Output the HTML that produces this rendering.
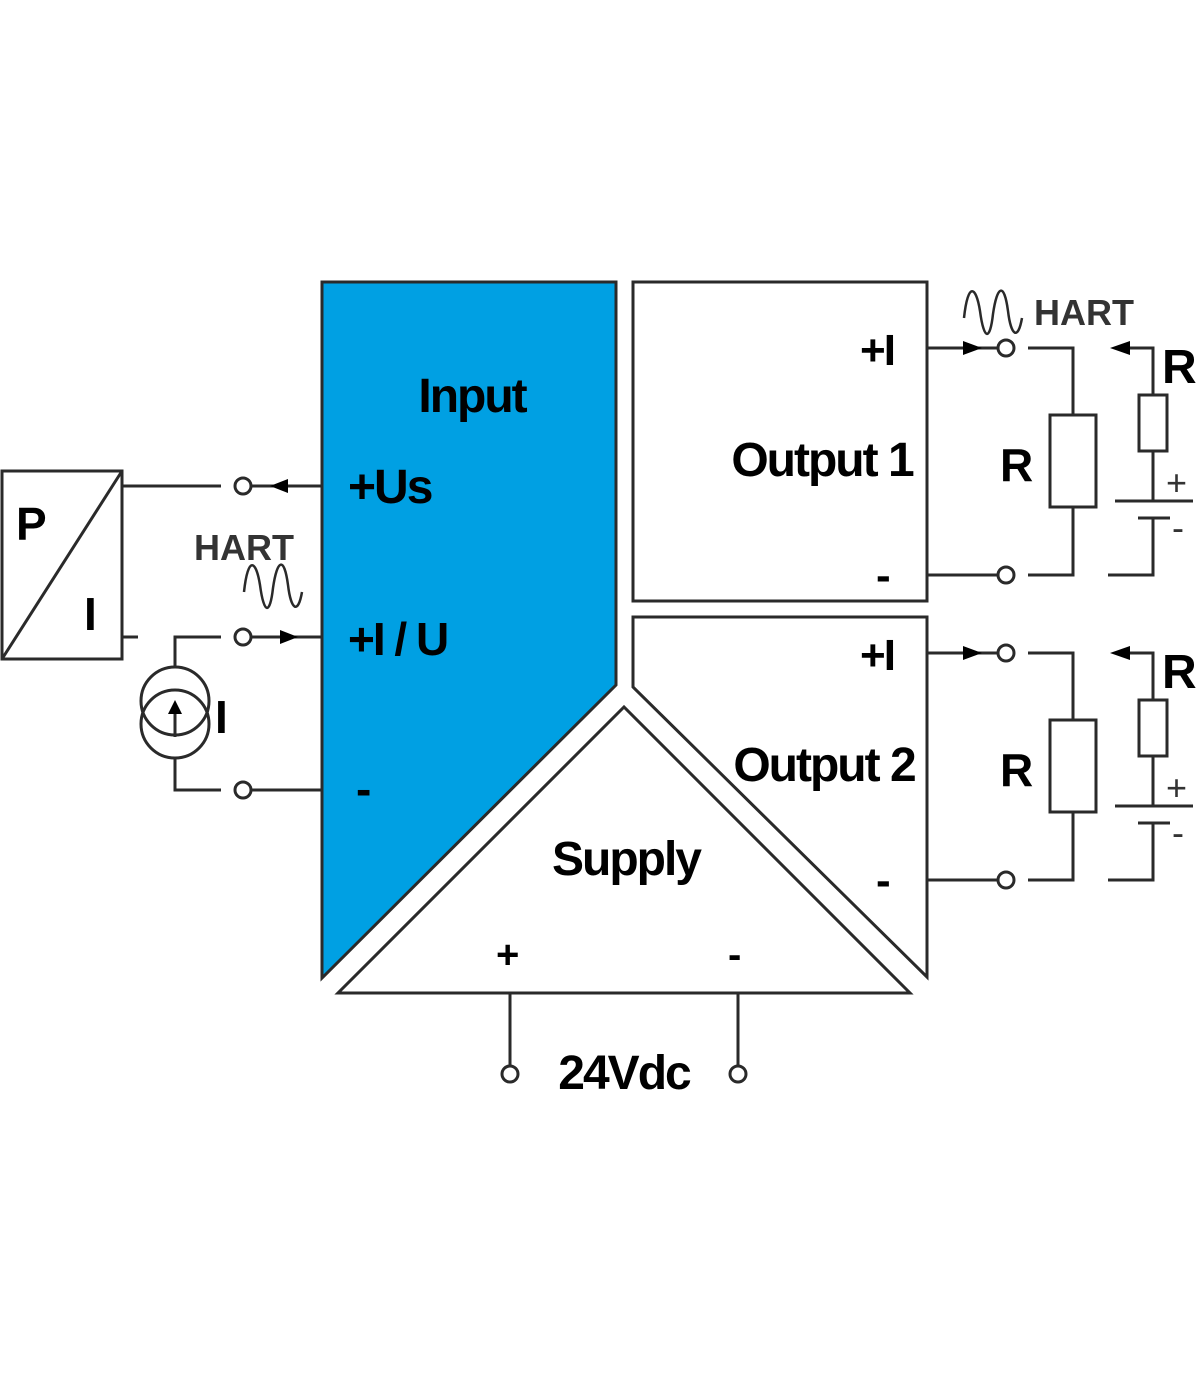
<!DOCTYPE html>
<html><head><style>
html,body{margin:0;padding:0;background:#fff}
text{font-family:"Liberation Sans",Arial,sans-serif;font-weight:bold;fill:#000}
</style></head><body>
<svg width="1200" height="1372" viewBox="0 0 1200 1372" xmlns="http://www.w3.org/2000/svg">
<g stroke="#2a2a2a" stroke-width="3" fill="none">
<polygon points="322,282 616,282 616,685 322,978" fill="#00a0e3"/>
<rect x="633" y="282" width="294" height="319" fill="#fff"/>
<polygon points="633,617 927,617 927,977 633,687" fill="#fff"/>
<polygon points="338,993 910,993 624,707" fill="#fff"/>
<line x1="510" y1="993" x2="510" y2="1066"/>
<line x1="738" y1="993" x2="738" y2="1066"/>
<circle cx="510" cy="1074" r="8" fill="#fff"/>
<circle cx="738" cy="1074" r="8" fill="#fff"/>
<rect x="2" y="471" width="120" height="188" fill="#fff"/>
<line x1="122" y1="471" x2="2" y2="659"/>
<line x1="122" y1="486" x2="221" y2="486"/>
<circle cx="243" cy="486" r="8" fill="#fff"/>
<line x1="251" y1="486" x2="322" y2="486"/>
<line x1="122" y1="637" x2="138" y2="637"/>
<circle cx="243" cy="637" r="8" fill="#fff"/>
<line x1="251" y1="637" x2="322" y2="637"/>
<polyline points="221,637 175,637 175,668"/>
<circle cx="175" cy="701" r="34"/>
<circle cx="175" cy="724" r="34"/>
<polyline points="175,758 175,790 221,790"/>
<circle cx="243" cy="790" r="8" fill="#fff"/>
<line x1="251" y1="790" x2="322" y2="790"/>
<line x1="175" y1="737" x2="175" y2="712"/>
<path d="M244,592 C248,555 256,560 260,585 C264,615 270,615 273,588 C277,560 284,555 288,585 C291,610 298,615 302,592" stroke-width="2.5"/>
<path d="M964,318 C968,281 976,286 980,311 C984,341 990,341 993,314 C997,286 1004,281 1008,311 C1011,336 1018,341 1022,318" stroke-width="2.5"/>
</g>
<g fill="#000">
<polygon points="270,486 288,479 288,493"/>
<polygon points="298,637 280,630 280,644"/>
<polygon points="175,700 168,714 182,714"/>
</g>
<g id="o1" stroke="#2a2a2a" stroke-width="3" fill="none">
<line x1="927" y1="348" x2="998" y2="348"/>
<circle cx="1006" cy="348" r="8" fill="#fff"/>
<polyline points="1028,348 1073,348 1073,415"/>
<rect x="1050" y="415" width="46" height="92" fill="#fff"/>
<polyline points="1073,507 1073,575 1028,575"/>
<line x1="927" y1="575" x2="998" y2="575"/>
<circle cx="1006" cy="575" r="8" fill="#fff"/>
<polyline points="1128,348 1153,348 1153,395"/>
<rect x="1139" y="395" width="28" height="56" fill="#fff"/>
<line x1="1153" y1="451" x2="1153" y2="501"/>
<line x1="1115" y1="501" x2="1193" y2="501"/>
<line x1="1138" y1="518" x2="1170" y2="518"/>
<polyline points="1153,518 1153,575 1108,575"/>
</g>
<g fill="#000">
<polygon points="982,348 963,341 963,355"/>
<polygon points="1110,348 1130,341 1130,355"/>
</g>
<use href="#o1" y="305"/>
<g fill="#000">
<polygon points="982,653 963,646 963,660"/>
<polygon points="1110,653 1130,646 1130,660"/>
</g>
<g style="letter-spacing:-2px">
<text x="472" y="412" font-size="48" text-anchor="middle">Input</text>
<text x="348" y="503" font-size="48">+Us</text>
<text x="348" y="655" font-size="46">+I / U</text>
<text x="356" y="805" font-size="46">-</text>
<text x="822" y="476" font-size="48" text-anchor="middle">Output 1</text>
<text x="824" y="781" font-size="48" text-anchor="middle">Output 2</text>
<text x="626" y="875" font-size="48" text-anchor="middle">Supply</text>
<text x="624" y="1089" font-size="48" text-anchor="middle">24Vdc</text>
<text x="860" y="365" font-size="44">+I</text>
<text x="860" y="670" font-size="44">+I</text>
</g>
<text x="876" y="590" font-size="44">-</text>
<text x="876" y="895" font-size="44">-</text>
<text x="496" y="968" font-size="40">+</text>
<text x="728" y="968" font-size="40">-</text>
<text x="16" y="540" font-size="46">P</text>
<text x="84" y="630" font-size="46">I</text>
<text x="215" y="733" font-size="46">I</text>
<text x="194" y="560" font-size="36" style="fill:#333">HART</text>
<text x="1034" y="325" font-size="36" style="fill:#333">HART</text>
<text x="1000" y="481" font-size="46">R</text>
<text x="1000" y="786" font-size="46">R</text>
<text x="1162" y="383" font-size="48">R</text>
<text x="1162" y="688" font-size="48">R</text>
<text x="1166" y="495" font-size="36" style="font-weight:normal;fill:#333">+</text>
<text x="1172" y="540" font-size="36" style="font-weight:normal;fill:#333">-</text>
<text x="1166" y="800" font-size="36" style="font-weight:normal;fill:#333">+</text>
<text x="1172" y="845" font-size="36" style="font-weight:normal;fill:#333">-</text>
</svg>
</body></html>
